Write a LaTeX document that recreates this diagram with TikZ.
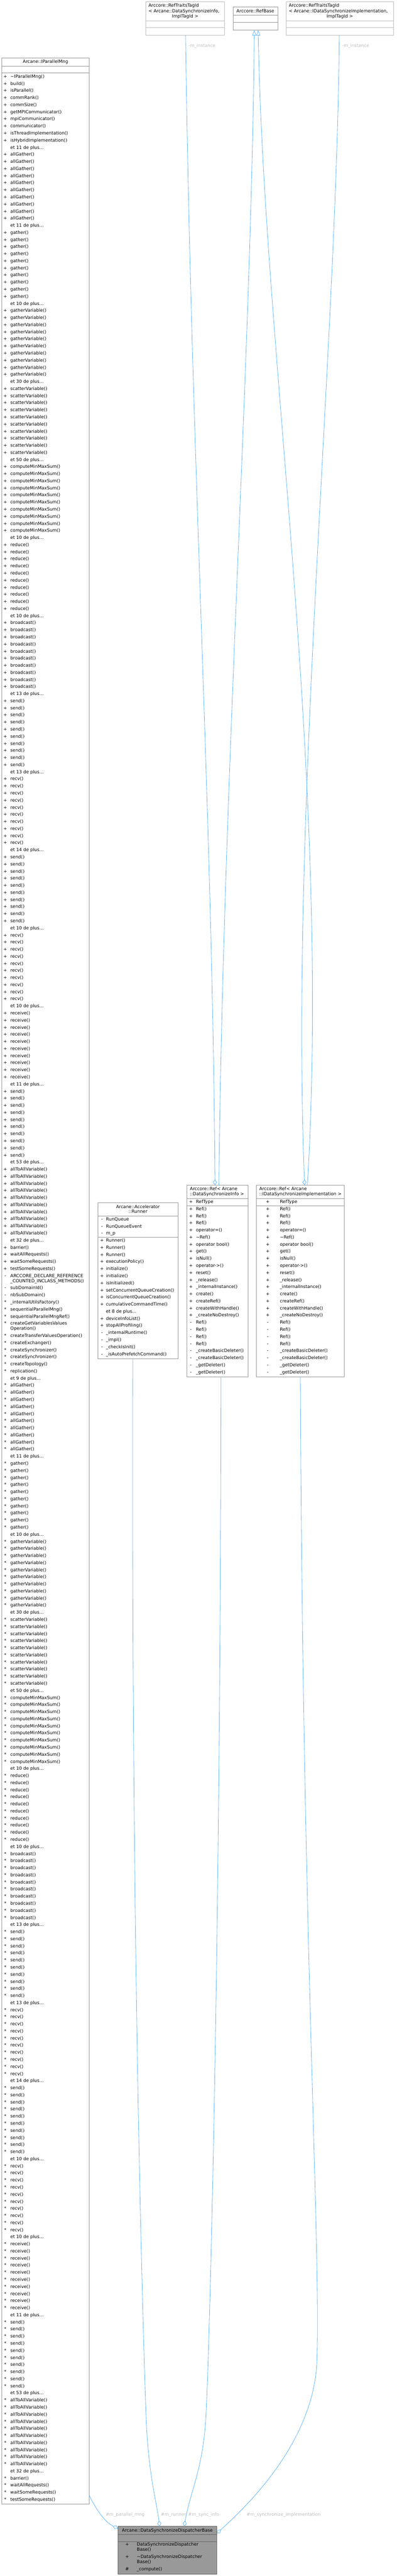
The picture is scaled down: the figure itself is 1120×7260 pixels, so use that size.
\documentclass[tikz,border=0pt]{standalone}
\usepackage{fontspec}
\newfontfamily\dv{DejaVu Sans}
\usetikzlibrary{arrows.meta}
\definecolor{edgeblue}{HTML}{63B8FF}
\definecolor{bord}{HTML}{999999}
\definecolor{bordl}{HTML}{BFBFBF}
\definecolor{labgray}{HTML}{BEBEBE}
\definecolor{hlfill}{HTML}{999999}
\definecolor{hlbord}{HTML}{666666}
\newcommand\mf{\dv\fontsize{6.25pt}{7.25pt}\selectfont}
\newcommand\etplus[1]{et #1 de plus...}
\newcommand\pmgrp[5]{%
  \foreach \k in {0,...,9}{%
    \node[pfx] (pmp-#1-\k) at (15,{216.5+20*(#1+\k)+#2}) {#3};
    \node[mem] (pmn-#1-\k) at (29,{216.5+20*(#1+\k)+#2}) {#4};
  }%
  \node[mem] (pme-#1) at (29,{216.5+20*(#1+10)+#2}) {\etplus{#5}};
}
\newcommand\pmrow[4]{%
  \node[pfx] (pmp-#1) at (15,{216.5+20*#1+#2}) {#3};
  \node[mem] (pmn-#1) at (29,{216.5+20*#1+#2}) {#4};
}
\newcommand\reflist{+/Ref(), +/Ref(), +/Ref(), +/operator=(), +/\textasciitilde Ref(), +/operator bool(), +/get(), +/isNull(), +/operator->(), +/reset(), +/\_release(), +/\_internalInstance(), +/create(), +/createRef(), +/createWithHandle(), +/\_createNoDestroy(), -/Ref(), -/Ref(), -/Ref(), -/Ref(), -/\_createBasicDeleter(), -/\_createBasicDeleter(), -/\_getDeleter(), -/\_getDeleter()}
% #1 id, #2 left x, #3 width pt, #4 width px, #5 prefix x, #6 name x, #7 title line 2
\newcommand\refbox[7]{%
  \node[box, minimum width=#3, minimum height=270pt] (#1) at (#2,3340) {};
  \draw[sep] (#2,3378) -- ++(#4,0);
  \draw[sep] (#2,3398) -- ++(#4,0);
  \node[mem] (#1-t1) at (#2+8,3352) {Arccore::Ref< Arcane};
  \node[mem] (#1-t2) at (#2+8,3366) {#7};
  \node[pfx] (#1-ap) at (#5,3388) {+};
  \node[mem] (#1-an) at (#6,3388) {RefType};
  \foreach \p/\n [count=\k from 0] in \reflist {%
    \node[pfx] (#1-p\k) at (#5,{3408+20*\k}) {\p};
    \node[mem] (#1-n\k) at (#6,{3408+20*\k}) {\n};
  }%
}
\begin{document}
\begin{tikzpicture}[x=0.5pt,y=-0.5pt,
  box/.style={draw=bord, line width=0.6pt, fill=white, inner sep=0pt, outer sep=0pt, anchor=north west},
  mem/.style={anchor=west, inner sep=0pt, font=\mf, text height=4.6pt, text depth=1.4pt},
  pfx/.style={anchor=center, inner sep=0pt, font=\mf, text height=4.6pt, text depth=1.4pt},
  ttl/.style={anchor=center, inner sep=0pt, font=\mf, text height=4.6pt, text depth=1.4pt},
  lbl/.style={anchor=west, inner sep=0pt, font=\mf, text=labgray, text height=4.6pt, text depth=1.4pt},
  sep/.style={draw=bord, line width=0.6pt},
  edg/.style={draw=edgeblue, line width=0.6pt},
  dia/.style={-{Diamond[open, length=8pt, width=5.5pt, line width=0.6pt]}},
  tri/.style={{Triangle[open, length=7.5pt, width=5.5pt, line width=0.6pt]}-},
]
\path[fill=white, use as bounding box] (0,0) rectangle (1120,7260);

% ---------- top row ----------
\node[box, draw=bordl, minimum width=111pt, minimum height=47.5pt] (ta) at (412,5) {};
\draw[sep, draw=bordl] (412,58) -- (634,58);
\draw[sep, draw=bordl] (412,78) -- (634,78);
\node[mem] (ta-1) at (419,17) {Arccore::RefTraitsTagId};
\node[mem] (ta-2) at (419,33) {< Arcane::DataSynchronizeInfo,};
\node[ttl] (ta-3) at (523,47) {ImplTagId >};

\node[box, minimum width=63pt, minimum height=32.5pt] (rb) at (658,20) {};
\draw[sep] (658,43) -- (784,43);
\draw[sep] (658,63) -- (784,63);
\node[ttl] (rb-t) at (721,32) {Arccore::RefBase};

\node[box, draw=bordl, minimum width=151.5pt, minimum height=47.5pt] (tc) at (808,5) {};
\draw[sep, draw=bordl] (808,58) -- (1111,58);
\draw[sep, draw=bordl] (808,78) -- (1111,78);
\node[mem] (tc-1) at (815,17) {Arccore::RefTraitsTagId};
\node[mem] (tc-2) at (815,33) {< Arcane::IDataSynchronizeImplementation,};
\node[ttl] (tc-3) at (959.5,47) {ImplTagId >};

% ---------- IParallelMng ----------
\node[box, minimum width=123.5pt, minimum height=3447pt] (pm) at (5,163) {};
\draw[sep] (5,186) -- (252,186);
\draw[sep] (5,206) -- (252,206);
\node[ttl] (pm-t) at (128.5,175) {Arcane::IParallelMng};
\foreach \n [count=\r from 0] in {\textasciitilde IParallelMng(), build(), isParallel(), commRank(), commSize(), getMPICommunicator(), mpiCommunicator(), communicator(), isThreadImplementation(), isHybridImplementation()}{%
  \node[pfx] (pmp-\r) at (15,{216.5+20*\r}) {+};
  \node[mem] (pmn-\r) at (29,{216.5+20*\r}) {\n};
}
\node[mem] (pme-0) at (29,{216.5+20*10}) {\etplus{11}};
\pmgrp{11}{0}{+}{allGather()}{11}
\pmgrp{22}{0}{+}{gather()}{10}
\pmgrp{33}{0}{+}{gatherVariable()}{30}
\pmgrp{44}{0}{+}{scatterVariable()}{50}
\pmgrp{55}{0}{+}{computeMinMaxSum()}{10}
\pmgrp{66}{0}{+}{reduce()}{10}
\pmgrp{77}{0}{+}{broadcast()}{13}
\pmgrp{88}{0}{+}{send()}{13}
\pmgrp{99}{0}{+}{recv()}{14}
\pmgrp{110}{0}{+}{send()}{10}
\pmgrp{121}{0}{+}{recv()}{10}
\pmgrp{132}{0}{+}{receive()}{11}
\pmgrp{143}{0}{+}{send()}{53}
\pmgrp{154}{0}{+}{allToAllVariable()}{32}
\pmrow{165}{0}{+}{barrier()}
\pmrow{166}{0}{+}{waitAllRequests()}
\pmrow{167}{0}{+}{waitSomeRequests()}
\pmrow{168}{0}{+}{testSomeRequests()}
\pmrow{169}{0}{-}{ARCCORE\_DECLARE\_REFERENCE}
\node[mem] (pmn-169b) at (29,{216.5+20*169+14.5}) {\_COUNTED\_INCLASS\_METHODS()};
\pmrow{170}{14.5}{-}{subDomainId()}
\pmrow{171}{14.5}{-}{nbSubDomain()}
\pmrow{172}{14.5}{*}{\_internalUtilsFactory()}
\pmrow{173}{14.5}{*}{sequentialParallelMng()}
\pmrow{174}{14.5}{*}{sequentialParallelMngRef()}
\pmrow{175}{14.5}{*}{createGetVariablesValues}
\node[mem] (pmn-175b) at (29,{216.5+20*175+29}) {Operation()};
\pmrow{176}{29}{*}{createTransferValuesOperation()}
\pmrow{177}{29}{*}{createExchanger()}
\pmrow{178}{29}{*}{createSynchronizer()}
\pmrow{179}{29}{*}{createSynchronizer()}
\pmrow{180}{29}{*}{createTopology()}
\pmrow{181}{29}{*}{replication()}
\node[mem] (pme-182) at (29,{216.5+20*182+29}) {\etplus{9}};
\pmgrp{183}{29}{*}{allGather()}{11}
\pmgrp{194}{29}{*}{gather()}{10}
\pmgrp{205}{29}{*}{gatherVariable()}{30}
\pmgrp{216}{29}{*}{scatterVariable()}{50}
\pmgrp{227}{29}{*}{computeMinMaxSum()}{10}
\pmgrp{238}{29}{*}{reduce()}{10}
\pmgrp{249}{29}{*}{broadcast()}{13}
\pmgrp{260}{29}{*}{send()}{13}
\pmgrp{271}{29}{*}{recv()}{14}
\pmgrp{282}{29}{*}{send()}{10}
\pmgrp{293}{29}{*}{recv()}{10}
\pmgrp{304}{29}{*}{receive()}{11}
\pmgrp{315}{29}{*}{send()}{53}
\pmgrp{326}{29}{*}{allToAllVariable()}{32}
\pmrow{337}{29}{*}{barrier()}
\pmrow{338}{29}{*}{waitAllRequests()}
\pmrow{339}{29}{*}{waitSomeRequests()}
\pmrow{340}{29}{*}{testSomeRequests()}

% ---------- Runner ----------
\node[box, minimum width=113.5pt, minimum height=220pt] (rn) at (276,3390) {};
\draw[sep] (276,3427) -- (503,3427);
\draw[sep] (276,3487) -- (503,3487);
\node[ttl] (rn-t1) at (389.5,3402) {Arcane::Accelerator};
\node[ttl] (rn-t2) at (389.5,3416) {::Runner};
\foreach \n [count=\k from 0] in {RunQueue, RunQueueEvent, m\_p}{%
  \node[pfx] (rn-ap\k) at (288,{3437+20*\k}) {-};
  \node[mem] (rn-an\k) at (299,{3437+20*\k}) {\n};
}
\foreach \p/\n [count=\k from 0] in {+/Runner(), +/Runner(), +/Runner(), +/executionPolicy(), +/initialize(), +/initialize(), +/isInitialized(), +/setConcurrentQueueCreation(), +/isConcurrentQueueCreation(), +/cumulativeCommandTime(), /\etplus{8}, +/deviceInfoList(), +/stopAllProfiling(), -/\_internalRuntime(), -/\_impl(), -/\_checkIsInit(), -/\_isAutoPrefetchCommand()}{%
  \node[pfx] (rn-p\k) at (288,{3497+20*\k}) {\p};
  \node[mem] (rn-n\k) at (299,{3497+20*\k}) {\n};
}

% ---------- Ref boxes ----------
\refbox{ra}{528}{86pt}{172}{539}{553}{::DataSynchronizeInfo >}
\refbox{rc}{724}{124pt}{248}{756}{790}{::IDataSynchronizeImplementation >}

% ---------- Dispatcher ----------
\node[box, fill=hlfill, draw=hlbord, minimum width=139.5pt, minimum height=67pt] (dp) at (333,7120) {};
\draw[sep, draw=hlbord] (333,7143) -- (612,7143);
\draw[sep, draw=hlbord] (333,7163) -- (612,7163);
\node[ttl] (dp-t) at (472.5,7133) {Arcane::DataSynchronizeDispatcherBase};
\node[pfx] (dp-p0) at (359,7172) {+};
\node[mem] (dp-n0) at (386,7172) {DataSynchronizeDispatcher};
\node[mem] (dp-n0b) at (386,7187) {Base()};
\node[pfx] (dp-p1) at (359,7207) {+};
\node[mem] (dp-n1) at (386,7207) {\textasciitilde DataSynchronizeDispatcher};
\node[mem] (dp-n1b) at (386,7221) {Base()};
\node[pfx] (dp-p2) at (359,7242) {\#};
\node[mem] (dp-n2) at (386,7242) {\_compute()};

% ---------- connectors ----------
\coordinate (ta-o) at (524,100);
\coordinate (ra-d) at (607,3340);
\coordinate (rb-o1) at (718,85);
\coordinate (ra-p) at (618,3340);
\coordinate (rb-o2) at (729,85);
\coordinate (rc-p) at (868,3340);
\coordinate (tc-o) at (958,100);
\coordinate (rc-d) at (860,3340);
\draw[edg, dia] (ta-o) .. controls (540,1300) and (600,2300) .. (ra-d);
\draw[edg, tri] (rb-o1) .. controls (710,1000) and (630,2200) .. (ra-p);
\draw[edg, tri] (rb-o2) .. controls (745,1000) and (935,2200) .. (rc-p);
\draw[edg, dia] (tc-o) .. controls (950,1000) and (820,2300) .. (rc-d);
\node[lbl] (lb-i1) at (532,130) {-m\_instance};
\node[lbl] (lb-i2) at (966,130) {-m\_instance};

\coordinate (pm-o) at (252,7033);
\coordinate (dp-l) at (333,7126);
\coordinate (rn-o) at (375,3830);
\coordinate (dp-r) at (451,7120);
\coordinate (ra-o) at (624,3880);
\coordinate (dp-s) at (520,7120);
\coordinate (rc-o) at (848,3880);
\coordinate (dp-i) at (612,7140);
\draw[edg, dia] (pm-o) .. controls (275,7080) and (300,7110) .. (dp-l);
\draw[edg, dia] (rn-o) .. controls (370,5500) and (405,6600) .. (412,6800) .. controls (418,6970) and (440,7040) .. (dp-r);
\draw[edg, dia] (ra-o) .. controls (622,5500) and (592,6600) .. (582,6800) .. controls (574,6960) and (540,7010) .. (dp-s);
\draw[edg, dia] (rc-o) .. controls (855,5500) and (905,6300) .. (895,6650) .. controls (888,6880) and (700,7060) .. (dp-i);
\node[lbl] (lb-pm) at (298,7087) {\#m\_parallel\_mng};
\node[lbl] (lb-rn) at (454,7087) {\#m\_runner};
\node[lbl] (lb-si) at (531,7087) {\#m\_sync\_info};
\node[lbl] (lb-im) at (696,7087) {\#m\_synchronize\_implementation};
\end{tikzpicture}
\end{document}
